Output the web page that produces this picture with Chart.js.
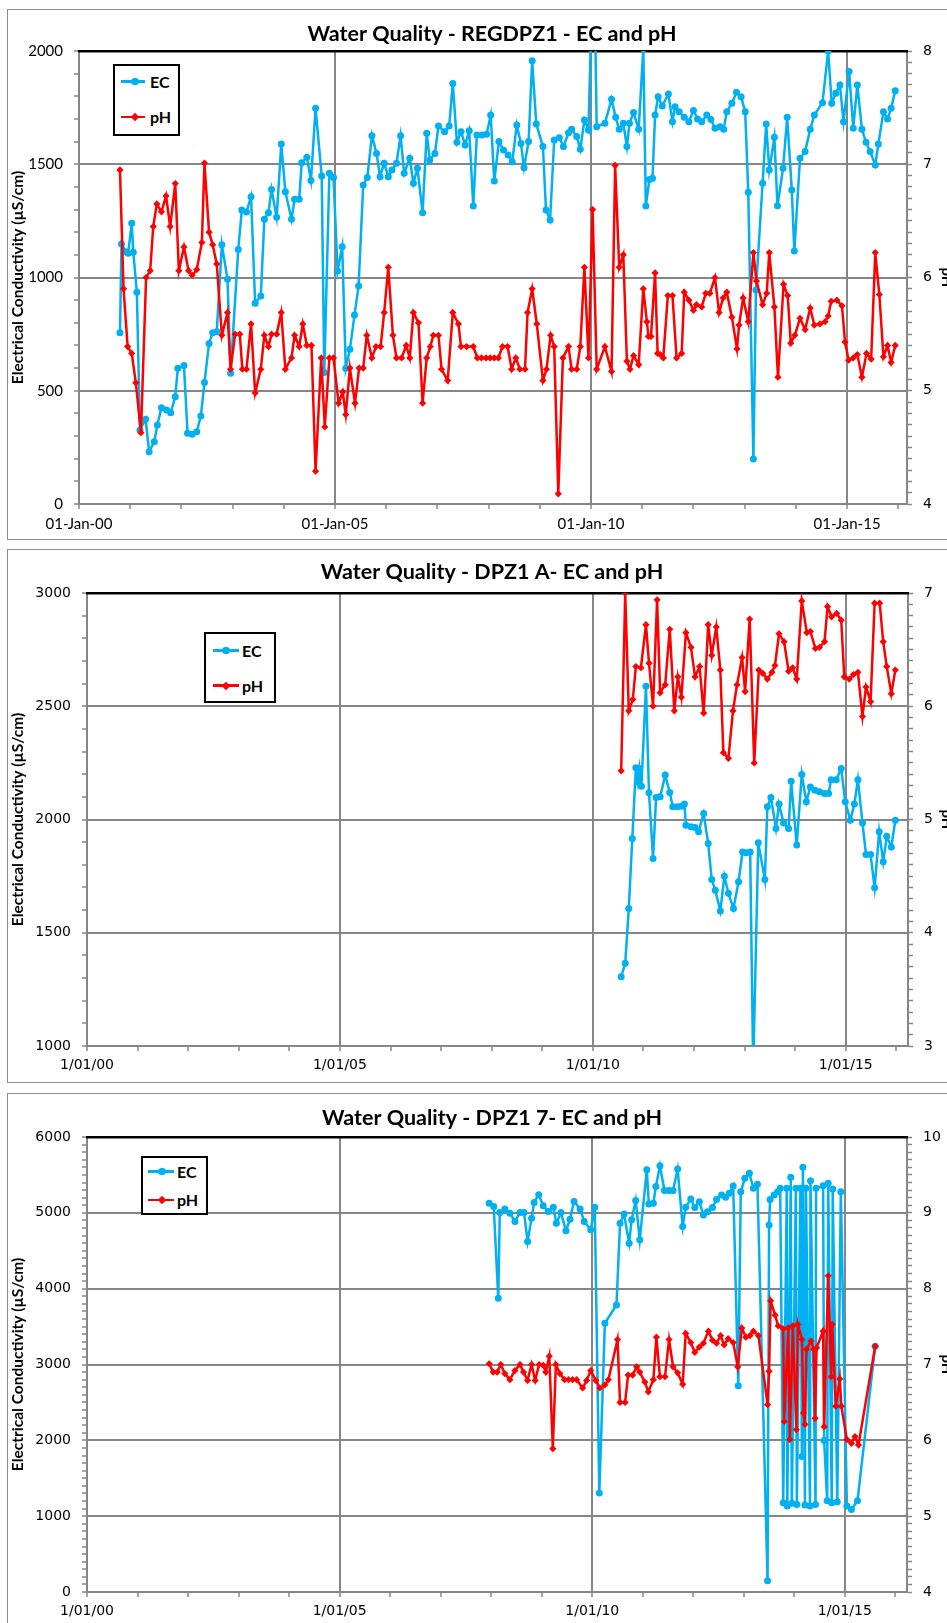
<!DOCTYPE html>
<html>
<head>
<meta charset="utf-8">
<script src="https://cdn.jsdelivr.net/npm/chart.js@4.4.0/dist/chart.umd.min.js"></script>
<style>
  html, body { margin: 0; padding: 0; background: #fff; overflow: hidden; width: 947px; height: 1623px; }
  .panel { position: absolute; left: 7px; border: 1px solid #8c8c8c; background: #fff; }
  .panel canvas { display: block; }
  .legend { position: absolute; box-sizing: border-box; border: 2px solid #000; background: #fff;
            font: bold 16px Lato, sans-serif; color: #000; }
  .legend div, .legend span { position: absolute; }
</style>
</head>
<body>
<div class="panel" style="top:9px"><canvas id="c1" width="968" height="529"></canvas></div>
<div class="panel" style="top:549px"><canvas id="c2" width="968" height="532"></canvas></div>
<div class="panel" style="top:1093px"><canvas id="c3" width="968" height="540"></canvas></div>
<script>
/* ---- data: dates as decimal years ---- */

// REGDPZ1
const p1EcYears = [
  2000.80, 2000.83, 2000.91, 2000.96, 2001.03, 2001.06, 2001.13, 2001.19, 2001.30, 2001.37,
  2001.47, 2001.53, 2001.61, 2001.71, 2001.79, 2001.88, 2001.93, 2002.05, 2002.12, 2002.21,
  2002.30, 2002.38, 2002.45, 2002.54, 2002.61, 2002.69, 2002.79, 2002.90, 2002.96, 2003.11,
  2003.18, 2003.27, 2003.36, 2003.44, 2003.55, 2003.62, 2003.70, 2003.76, 2003.86, 2003.95,
  2004.03, 2004.15, 2004.21, 2004.30, 2004.35, 2004.45, 2004.53, 2004.62, 2004.74, 2004.79,
  2004.89, 2004.97, 2005.05, 2005.14, 2005.21, 2005.29, 2005.38, 2005.46, 2005.55, 2005.63,
  2005.72, 2005.81, 2005.88, 2005.96, 2006.04, 2006.11, 2006.20, 2006.28, 2006.35, 2006.46,
  2006.53, 2006.61, 2006.71, 2006.79, 2006.85, 2006.95, 2007.02, 2007.14, 2007.23, 2007.30,
  2007.38, 2007.46, 2007.54, 2007.62, 2007.70, 2007.77, 2007.87, 2007.96, 2008.04, 2008.11,
  2008.20, 2008.29, 2008.38, 2008.46, 2008.55, 2008.63, 2008.69, 2008.78, 2008.85, 2008.93,
  2009.06, 2009.12, 2009.20, 2009.28, 2009.38, 2009.46, 2009.56, 2009.62, 2009.72, 2009.79,
  2009.87, 2009.95, 2010.05, 2010.11, 2010.27, 2010.40, 2010.48, 2010.55, 2010.63, 2010.70,
  2010.75, 2010.83, 2010.93, 2011.02, 2011.07, 2011.14, 2011.20, 2011.25, 2011.31, 2011.39,
  2011.51, 2011.59, 2011.64, 2011.72, 2011.82, 2011.91, 2012.00, 2012.08, 2012.16, 2012.26,
  2012.34, 2012.42, 2012.52, 2012.59, 2012.65, 2012.75, 2012.84, 2012.93, 2013.01, 2013.07,
  2013.17, 2013.22, 2013.35, 2013.42, 2013.48, 2013.58, 2013.64, 2013.75, 2013.83, 2013.92,
  2013.97, 2014.08, 2014.18, 2014.28, 2014.36, 2014.52, 2014.63, 2014.70, 2014.78, 2014.86,
  2014.93, 2015.04, 2015.12, 2015.20, 2015.29, 2015.37, 2015.45, 2015.55, 2015.61, 2015.71,
  2015.79, 2015.86, 2015.94
];
const p1EcValues = [
  756, 1148, 1114, 1107, 1239, 1111, 935, 327, 374, 231,
  275, 349, 425, 415, 403, 474, 599, 611, 312, 308,
  319, 389, 536, 709, 756, 761, 1145, 992, 577, 1124,
  1298, 1289, 1357, 886, 918, 1257, 1286, 1389, 1266, 1589,
  1379, 1257, 1345, 1345, 1507, 1531, 1428, 1747, 1448, 581,
  1460, 1442, 1029, 1136, 599, 683, 834, 962, 1408, 1441,
  1626, 1548, 1445, 1504, 1445, 1475, 1504, 1626, 1460, 1526,
  1416, 1482, 1286, 1637, 1519, 1548, 1669, 1644, 1669, 1857,
  1597, 1644, 1585, 1648, 1316, 1629, 1629, 1632, 1717, 1426,
  1600, 1563, 1541, 1511, 1673, 1592, 1485, 1600, 1957, 1678,
  1578, 1298, 1254, 1607, 1617, 1578, 1639, 1654, 1622, 1566,
  1695, 1651, 2534, 1666, 1681, 1787, 1707, 1654, 1681, 1578,
  1681, 1728, 1654, 2010, 1316, 1433, 1438, 1717, 1798, 1757,
  1810, 1688, 1754, 1732, 1707, 1688, 1737, 1700, 1688, 1717,
  1698, 1659, 1666, 1654, 1732, 1769, 1818, 1798, 1732, 1376,
  199, 945, 1416, 1678, 1475, 1619, 1317, 1482, 1707, 1386,
  1117, 1526, 1556, 1654, 1717, 1772, 2000, 1769, 1813, 1850,
  1688, 1909, 1659, 1850, 1654, 1597, 1556, 1497, 1589, 1732,
  1700, 1747, 1825
];
const p1PhYears = [
  2000.80, 2000.87, 2000.95, 2001.03, 2001.11, 2001.21, 2001.31, 2001.39, 2001.45, 2001.52,
  2001.61, 2001.70, 2001.78, 2001.88, 2001.95, 2002.05, 2002.14, 2002.21, 2002.30, 2002.40,
  2002.45, 2002.54, 2002.61, 2002.69, 2002.79, 2002.90, 2002.96, 2003.05, 2003.14, 2003.19,
  2003.27, 2003.36, 2003.44, 2003.55, 2003.62, 2003.70, 2003.76, 2003.86, 2003.95, 2004.03,
  2004.15, 2004.21, 2004.30, 2004.37, 2004.45, 2004.54, 2004.62, 2004.73, 2004.80, 2004.89,
  2004.97, 2005.07, 2005.15, 2005.21, 2005.29, 2005.39, 2005.47, 2005.55, 2005.62, 2005.72,
  2005.80, 2005.89, 2005.96, 2006.04, 2006.13, 2006.20, 2006.30, 2006.39, 2006.46, 2006.53,
  2006.63, 2006.71, 2006.79, 2006.86, 2006.92, 2007.02, 2007.08, 2007.20, 2007.30, 2007.41,
  2007.46, 2007.57, 2007.70, 2007.78, 2007.86, 2007.95, 2008.03, 2008.11, 2008.19, 2008.27,
  2008.37, 2008.45, 2008.53, 2008.61, 2008.71, 2008.76, 2008.85, 2008.94, 2009.06, 2009.13,
  2009.21, 2009.28, 2009.36, 2009.45, 2009.56, 2009.62, 2009.72, 2009.79, 2009.87, 2009.95,
  2010.03, 2010.11, 2010.27, 2010.40, 2010.47, 2010.55, 2010.63, 2010.70, 2010.76, 2010.83,
  2010.93, 2011.02, 2011.09, 2011.12, 2011.17, 2011.25, 2011.30, 2011.35, 2011.41, 2011.50,
  2011.59, 2011.67, 2011.77, 2011.82, 2011.91, 2012.00, 2012.06, 2012.16, 2012.24, 2012.32,
  2012.42, 2012.50, 2012.58, 2012.65, 2012.75, 2012.85, 2012.89, 2012.97, 2013.07, 2013.17,
  2013.23, 2013.35, 2013.43, 2013.48, 2013.58, 2013.65, 2013.76, 2013.84, 2013.90, 2013.98,
  2014.08, 2014.18, 2014.28, 2014.36, 2014.47, 2014.57, 2014.63, 2014.69, 2014.80, 2014.90,
  2014.96, 2015.03, 2015.12, 2015.20, 2015.29, 2015.38, 2015.47, 2015.55, 2015.63, 2015.71,
  2015.79, 2015.86, 2015.94
];
const p1PhValues = [
  6.95, 5.90, 5.39, 5.33, 5.07, 4.63, 6.00, 6.06, 6.45, 6.65,
  6.58, 6.72, 6.45, 6.83, 6.06, 6.27, 6.06, 6.02, 6.07, 6.31,
  7.01, 6.40, 6.29, 6.12, 5.49, 5.69, 5.19, 5.50, 5.50, 5.19,
  5.19, 5.59, 4.98, 5.19, 5.49, 5.39, 5.50, 5.50, 5.69, 5.19,
  5.29, 5.49, 5.39, 5.59, 5.40, 5.40, 4.29, 5.29, 4.68, 5.29,
  5.29, 4.89, 4.99, 4.79, 5.20, 4.89, 5.20, 5.20, 5.49, 5.29,
  5.39, 5.39, 5.69, 6.09, 5.49, 5.29, 5.29, 5.40, 5.29, 5.69,
  5.60, 4.89, 5.29, 5.39, 5.49, 5.49, 5.19, 5.09, 5.69, 5.59,
  5.39, 5.39, 5.39, 5.29, 5.29, 5.29, 5.29, 5.29, 5.29, 5.39,
  5.39, 5.19, 5.29, 5.19, 5.19, 5.69, 5.90, 5.59, 5.09, 5.19,
  5.49, 5.39, 4.09, 5.29, 5.39, 5.19, 5.19, 5.39, 6.09, 5.29,
  6.60, 5.19, 5.39, 5.17, 6.99, 6.09, 6.20, 5.26, 5.19, 5.31,
  5.23, 5.90, 5.61, 5.48, 5.48, 6.04, 5.33, 5.32, 5.29, 5.84,
  5.84, 5.29, 5.33, 5.87, 5.80, 5.71, 5.76, 5.74, 5.86, 5.86,
  6.00, 5.69, 5.82, 5.87, 5.65, 5.37, 5.58, 5.82, 5.61, 6.22,
  5.97, 5.76, 5.86, 6.22, 5.74, 5.12, 5.94, 5.84, 5.42, 5.49,
  5.64, 5.54, 5.73, 5.58, 5.59, 5.61, 5.66, 5.79, 5.80, 5.75,
  5.43, 5.27, 5.29, 5.32, 5.12, 5.33, 5.28, 6.22, 5.85, 5.30,
  5.40, 5.25, 5.40
];

// DPZ1 A
const p2EcYears = [
  2010.56, 2010.64, 2010.71, 2010.78, 2010.85, 2010.89, 2010.92, 2010.96, 2011.05, 2011.11,
  2011.19, 2011.25, 2011.33, 2011.43, 2011.52, 2011.58, 2011.67, 2011.75, 2011.81, 2011.84,
  2011.94, 2012.02, 2012.09, 2012.19, 2012.28, 2012.35, 2012.42, 2012.52, 2012.60, 2012.68,
  2012.78, 2012.88, 2012.96, 2013.03, 2013.11, 2013.17, 2013.27, 2013.40, 2013.45, 2013.52,
  2013.62, 2013.68, 2013.77, 2013.87, 2013.92, 2014.03, 2014.13, 2014.22, 2014.30, 2014.39,
  2014.48, 2014.58, 2014.66, 2014.71, 2014.81, 2014.91, 2014.99, 2015.09, 2015.17, 2015.24,
  2015.33, 2015.40, 2015.49, 2015.57, 2015.66, 2015.74, 2015.81, 2015.90, 2015.98
];
const p2EcValues = [
  1306, 1365, 1607, 1916, 2228, 2166, 2225, 2147, 2588, 2118,
  1828, 2097, 2100, 2196, 2119, 2056, 2056, 2059, 2068, 1975,
  1968, 1965, 1946, 2027, 1894, 1735, 1688, 1596, 1750, 1674,
  1607, 1725, 1857, 1853, 1857, 900, 1897, 1735, 2056, 2097,
  1960, 2068, 1985, 1960, 2169, 1887, 2199, 2078, 2144, 2129,
  2122, 2115, 2115, 2176, 2176, 2225, 2078, 1997, 2068, 2176,
  1985, 1846, 1846, 1699, 1946, 1813, 1926, 1879, 1997
];
const p2PhYears = [
  2010.56, 2010.64, 2010.71, 2010.79, 2010.85, 2010.95, 2011.05, 2011.11, 2011.19, 2011.27,
  2011.33, 2011.43, 2011.52, 2011.61, 2011.68, 2011.75, 2011.84, 2011.94, 2012.02, 2012.11,
  2012.19, 2012.28, 2012.35, 2012.44, 2012.52, 2012.58, 2012.68, 2012.77, 2012.85, 2012.95,
  2013.01, 2013.10, 2013.19, 2013.28, 2013.36, 2013.45, 2013.54, 2013.60, 2013.68, 2013.78,
  2013.87, 2013.95, 2014.03, 2014.13, 2014.23, 2014.30, 2014.40, 2014.48, 2014.58, 2014.64,
  2014.72, 2014.82, 2014.91, 2014.97, 2015.07, 2015.15, 2015.24, 2015.33, 2015.40, 2015.49,
  2015.57, 2015.67, 2015.74, 2015.81, 2015.90, 2015.98
];
const p2PhValues = [
  5.43, 7.00, 5.96, 6.06, 6.35, 6.34, 6.72, 6.38, 6.00, 6.94,
  6.12, 6.19, 6.68, 5.96, 6.26, 6.08, 6.65, 6.52, 6.26, 6.35,
  5.94, 6.72, 6.45, 6.70, 6.32, 5.59, 5.54, 5.96, 6.19, 6.43,
  6.13, 6.77, 5.50, 6.32, 6.29, 6.24, 6.30, 6.36, 6.64, 6.57,
  6.31, 6.34, 6.24, 6.93, 6.65, 6.66, 6.51, 6.52, 6.57, 6.88,
  6.79, 6.82, 6.76, 6.26, 6.24, 6.28, 6.30, 5.91, 6.17, 6.04,
  6.91, 6.91, 6.57, 6.35, 6.11, 6.32
];

// DPZ1 7
const p3EcYears = [
  2007.96, 2008.05, 2008.14, 2008.17, 2008.27, 2008.37, 2008.47, 2008.57, 2008.65, 2008.72,
  2008.80, 2008.85, 2008.94, 2009.03, 2009.13, 2009.23, 2009.29, 2009.38, 2009.48, 2009.56,
  2009.64, 2009.76, 2009.84, 2009.97, 2010.05, 2010.14, 2010.25, 2010.48, 2010.55, 2010.63,
  2010.73, 2010.78, 2010.86, 2010.94, 2011.08, 2011.12, 2011.21, 2011.26, 2011.34, 2011.43,
  2011.52, 2011.60, 2011.69, 2011.79, 2011.85, 2011.95, 2012.03, 2012.12, 2012.20, 2012.28,
  2012.38, 2012.46, 2012.56, 2012.64, 2012.71, 2012.79, 2012.89, 2012.94, 2013.02, 2013.11,
  2013.19, 2013.27, 2013.47, 2013.50, 2013.52, 2013.60, 2013.67, 2013.72, 2013.78, 2013.85,
  2013.86, 2013.93, 2013.95, 2014.03, 2014.05, 2014.12, 2014.15, 2014.17, 2014.21, 2014.23,
  2014.31, 2014.32, 2014.42, 2014.43, 2014.57, 2014.59, 2014.65, 2014.67, 2014.74, 2014.76,
  2014.85, 2014.92, 2015.04, 2015.13, 2015.25, 2015.60
];
const p3EcValues = [
  5128, 5084, 3874, 5005, 5049, 4996, 4886, 5005, 5005, 4622,
  4930, 5137, 5238, 5093, 5018, 5075, 4864, 5005, 4763, 4917,
  5150, 5049, 4886, 4776, 5075, 1307, 3544, 3786, 4864, 4983,
  4600, 4908, 5163, 4644, 5568, 5115, 5128, 5348, 5621, 5296,
  5296, 5296, 5577, 4820, 5075, 5181, 5071, 5146, 4970, 5014,
  5071, 5177, 5235, 5204, 5257, 5354, 2721, 5279, 5455, 5521,
  5323, 5376, 150, 4838, 5177, 5235, 5279, 5323, 1177, 5323,
  1133, 5468, 1169, 5323, 1155, 5323, 1786, 5601, 1147, 5323,
  1133, 5424, 1155, 5323, 5358, 1998, 1204, 5389, 1177, 5314,
  1191, 5279, 1133, 1089, 1204, 3240
];
const p3PhYears = [
  2007.96, 2008.04, 2008.12, 2008.19, 2008.27, 2008.37, 2008.47, 2008.57, 2008.64, 2008.72,
  2008.80, 2008.87, 2008.95, 2009.03, 2009.08, 2009.15, 2009.22, 2009.28, 2009.36, 2009.45,
  2009.53, 2009.61, 2009.69, 2009.81, 2009.89, 2009.97, 2010.07, 2010.15, 2010.25, 2010.32,
  2010.50, 2010.55, 2010.65, 2010.71, 2010.80, 2010.88, 2010.94, 2011.04, 2011.11, 2011.21,
  2011.27, 2011.34, 2011.44, 2011.52, 2011.60, 2011.69, 2011.79, 2011.85, 2011.95, 2012.03,
  2012.12, 2012.20, 2012.30, 2012.38, 2012.46, 2012.54, 2012.61, 2012.69, 2012.79, 2012.88,
  2012.96, 2013.04, 2013.12, 2013.19, 2013.29, 2013.47, 2013.50, 2013.53, 2013.62, 2013.68,
  2013.78, 2013.80, 2013.88, 2013.91, 2013.97, 2014.04, 2014.07, 2014.15, 2014.18, 2014.21,
  2014.24, 2014.33, 2014.38, 2014.41, 2014.44, 2014.57, 2014.59, 2014.67, 2014.73, 2014.75,
  2014.82, 2014.90, 2014.93, 2015.04, 2015.13, 2015.20, 2015.27, 2015.60
];
const p3PhValues = [
  7.01, 6.90, 6.90, 7.00, 6.88, 6.80, 6.92, 7.00, 6.90, 6.79,
  7.00, 6.79, 7.00, 6.99, 6.90, 7.11, 5.89, 7.00, 6.88, 6.80,
  6.80, 6.80, 6.80, 6.69, 6.79, 6.92, 6.79, 6.69, 6.73, 6.80,
  7.33, 6.50, 6.50, 6.86, 6.86, 6.97, 6.90, 6.77, 6.64, 6.80,
  7.36, 6.84, 6.84, 7.33, 6.97, 6.89, 6.74, 7.41, 7.29, 7.16,
  7.23, 7.28, 7.44, 7.32, 7.28, 7.38, 7.26, 7.34, 7.29, 6.97,
  7.48, 7.36, 7.38, 7.44, 7.38, 6.47, 6.91, 7.84, 7.65, 7.51,
  7.47, 6.25, 7.48, 6.01, 7.51, 6.14, 7.53, 7.33, 6.36, 6.21,
  7.20, 7.31, 7.20, 6.29, 7.22, 7.44, 6.18, 8.17, 6.84, 7.53,
  6.45, 6.81, 6.45, 6.01, 5.96, 6.05, 5.94, 7.24
];

/* ---- styling ---- */
const GRID = '#868686';
const BLUE = '#00B0F0';
const RED = '#FF0000';
const CLEAR = 'rgba(0,0,0,0)';

function isMult(v, m) {
  return Math.abs(v / m - Math.round(v / m)) < 1e-6;
}
const yy = v => String(Math.round(v) % 100).padStart(2, '0');

function makeChart(id, c) {
  const ec = c.ecYears.map((x, i) => ({ x, y: c.ecValues[i] }));
  const ph = c.phYears.map((x, i) => ({ x, y: c.phValues[i] }));
  const tickGrid = (major, first) => ({
    color: ctx => (ctx.tick && isMult(ctx.tick.value, major) && ctx.tick.value !== first) ? GRID : CLEAR,
    lineWidth: 2,
    tickColor: GRID,
    tickWidth: 1.5,
    tickLength: 5,
  });

  return new Chart(document.getElementById(id), {
    type: 'line',
    data: {
      datasets: [
        {
          label: 'EC', data: ec, yAxisID: 'y', order: 1,
          borderColor: BLUE, backgroundColor: BLUE, borderWidth: 2.5,
          pointStyle: 'circle', pointRadius: 3.5, pointBorderWidth: 0, tension: 0,
        },
        {
          label: 'pH', data: ph, yAxisID: 'y2', order: 0,
          borderColor: RED, backgroundColor: RED, borderWidth: 2.5,
          pointStyle: 'rectRot', pointRadius: 3.6, pointBorderWidth: 0, tension: 0,
        },
      ],
    },
    options: {
      responsive: false,
      animation: false,
      events: [],
      layout: { padding: 0 },
      plugins: {
        legend: { display: false },
        tooltip: { enabled: false },
        title: {
          display: true, text: c.title, color: '#000',
          font: { family: 'Lato', size: 21.5, weight: 'bold' },
          padding: { top: c.titleTop, bottom: c.titleBottom },
        },
      },
      scales: {
        x: {
          type: 'linear', position: 'bottom', min: 2000, max: c.xMax,
          afterFit: s => { s.height = c.bottomH; },
          ticks: {
            stepSize: 1, autoSkip: false, maxRotation: 0, includeBounds: false, padding: 6,
            color: '#000', font: c.xFont,
            callback: v => isMult(v, 5) ? c.xLabel(v) : '',
          },
          grid: tickGrid(5, 2000),
          border: { color: GRID, width: 2 },
        },
        y: {
          position: 'left', min: c.ecMin, max: c.ecMax,
          afterFit: s => { s.width = c.leftW; },
          ticks: {
            stepSize: 100, autoSkip: false, padding: 11, color: '#000', font: c.yFont,
            callback: v => isMult(v, c.ecMajor) ? String(v) : '',
          },
          grid: tickGrid(c.ecMajor, c.ecMin),
          border: { color: GRID, width: 2 },
          title: {
            display: true, text: 'Electrical Conductivity (µS/cm)', color: '#000',
            font: { family: 'Lato', size: 15.5, weight: 'bold' },
            padding: { top: 1, bottom: 0 },
          },
        },
        y2: {
          position: 'right', min: c.phMin, max: c.phMax,
          afterFit: s => { s.width = c.rightW; },
          ticks: {
            stepSize: 0.1, autoSkip: false, padding: 11, color: '#000', font: c.y2Font,
            callback: v => isMult(v, 1) ? String(Math.round(v)) : '',
          },
          grid: { drawOnChartArea: false, color: GRID, tickColor: GRID, tickWidth: 1.5, tickLength: 5 },
          border: { color: GRID, width: 2 },
          title: {
            display: true, text: 'pH', color: '#000',
            font: { family: 'Lato', size: 15, weight: 'bold' },
            padding: { top: 20, bottom: 0 },
          },
        },
        x2: {
          type: 'linear', position: 'top', min: 2000, max: c.xMax,
          afterFit: s => { s.height = 0; },
          ticks: { display: false },
          grid: { display: false, drawTicks: false },
          border: { color: '#000', width: 2.5 },
        },
      },
    },
  });
}

function addLegend(b) {
  const box = document.createElement('div');
  box.className = 'legend';
  Object.assign(box.style, { left: b.x + 'px', top: b.y + 'px', width: b.w + 'px', height: b.h + 'px' });
  [['EC', BLUE, b.r1, true], ['pH', RED, b.r2, false]].forEach(([name, col, cy, round]) => {
    const ry = cy - b.y - 2;
    const line = document.createElement('div');
    Object.assign(line.style, { left: (b.lx1 - b.x - 2) + 'px', top: (ry - 1.25) + 'px',
      width: (b.lx2 - b.lx1) + 'px', height: '2.5px', background: col });
    const mk = document.createElement('div');
    const sz = round ? 7.5 : 6;
    Object.assign(mk.style, { left: (b.mx - b.x - 2 - sz / 2) + 'px', top: (ry - sz / 2) + 'px',
      width: sz + 'px', height: sz + 'px', background: col,
      borderRadius: round ? '50%' : '0', transform: round ? 'none' : 'rotate(45deg)' });
    const txt = document.createElement('span');
    txt.textContent = name;
    Object.assign(txt.style, { left: (b.tx - b.x - 2) + 'px', top: (ry - 10) + 'px', lineHeight: '20px' });
    box.append(line, mk, txt);
  });
  document.body.appendChild(box);
}

const latoTicks = { family: 'Lato', size: 15 };
const dejaTicks = { family: 'DejaVu Sans', size: 14 };

makeChart('c1', {
  title: 'Water Quality - REGDPZ1 - EC and pH', titleTop: 11.1, titleBottom: 4.1,
  ecYears: p1EcYears, ecValues: p1EcValues, phYears: p1PhYears, phValues: p1PhValues,
  ecMin: 0, ecMax: 2000, ecMajor: 500, phMin: 4, phMax: 8, xMax: 2016.17,
  leftW: 71, rightW: 69, bottomH: 35,
  xFont: latoTicks, yFont: latoTicks, y2Font: dejaTicks,
  xLabel: v => '01-Jan-' + yy(v),
});
makeChart('c2', {
  title: 'Water Quality - DPZ1 A- EC and pH', titleTop: 9.1, titleBottom: 8.1,
  ecYears: p2EcYears, ecValues: p2EcValues, phYears: p2PhYears, phValues: p2PhValues,
  ecMin: 1000, ecMax: 3000, ecMajor: 500, phMin: 3, phMax: 7, xMax: 2016.23,
  leftW: 79, rightW: 68, bottomH: 36,
  xFont: dejaTicks, yFont: dejaTicks, y2Font: dejaTicks,
  xLabel: v => '1/01/' + yy(v),
});
makeChart('c3', {
  title: 'Water Quality - DPZ1 7- EC and pH', titleTop: 11.1, titleBottom: 6.1,
  ecYears: p3EcYears, ecValues: p3EcValues, phYears: p3PhYears, phValues: p3PhValues,
  ecMin: 0, ecMax: 6000, ecMajor: 1000, phMin: 4, phMax: 10, xMax: 2016.23,
  leftW: 79, rightW: 69, bottomH: 42,
  xFont: dejaTicks, yFont: dejaTicks, y2Font: dejaTicks,
  xLabel: v => '1/01/' + yy(v),
});

addLegend({ x: 113, y: 64, w: 67, h: 72, r1: 81.7, r2: 117, lx1: 121, lx2: 145, mx: 135, tx: 150 });
addLegend({ x: 204, y: 632, w: 72, h: 71, r1: 650.7, r2: 685.7, lx1: 213, lx2: 239, mx: 226, tx: 242 });
addLegend({ x: 141, y: 1156, w: 67, h: 59, r1: 1171.7, r2: 1200, lx1: 148, lx2: 174, mx: 162, tx: 177 });
</script>
</body>
</html>
